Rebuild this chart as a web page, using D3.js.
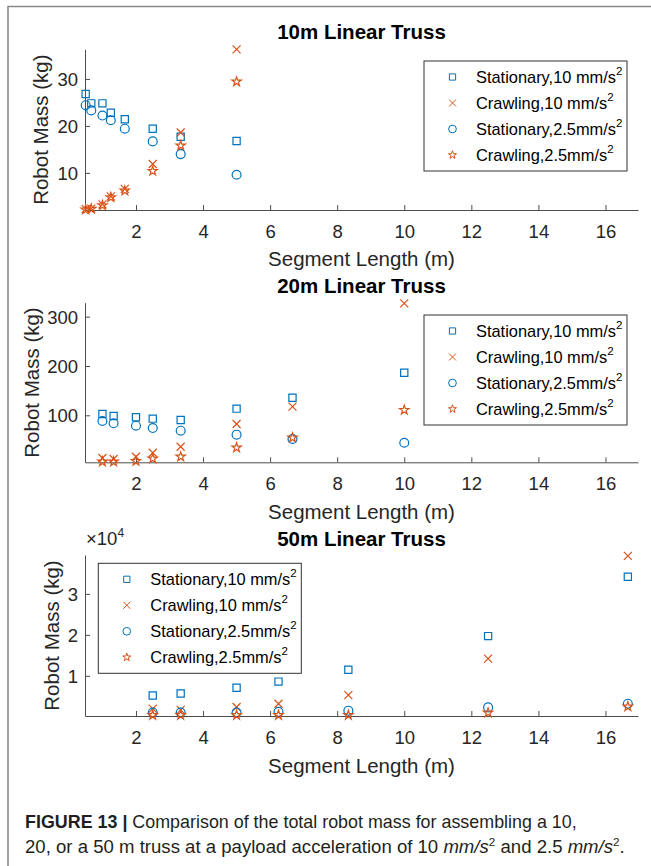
<!DOCTYPE html>
<html>
<head>
<meta charset="utf-8">
<script src="https://cdn.jsdelivr.net/npm/d3@7"></script>
<style>
    body { margin: 0; background: #fff; }
    #svg { display: block; font-family: "Liberation Sans", Arial, sans-serif; }
</style>
</head>
<body>
<svg id="svg" width="651" height="866"></svg>
<script>
// ---- data ----
let seg10 = [0.5, 0.667, 1, 1.25, 1.667, 2.5, 3.333, 5];
let stat10_10 = [26.8, 24.8, 24.8, 22.8, 21.4, 19.4, 17.7, 16.8];
let crawl10_10 = [2.3, 2.4, 3.3, 5.0, 6.6, 11.9, 18.6, 36.3];
let stat25_10 = [24.4, 23.3, 22.2, 21.2, 19.4, 16.7, 14.0, 9.6];
let crawl25_10 = [2.2, 2.35, 3.1, 4.8, 6.2, 10.4, 15.8, 29.4];

let seg20 = [1, 1.333, 2, 2.5, 3.333, 5, 6.667, 10];
let stat10_20 = [102.6, 98.6, 96, 93.2, 90.5, 113.5, 135.7, 186.4];
let crawl10_20 = [13.4, 11.4, 16, 24.1, 36.3, 82.3, 117.5, 327];
let stat25_20 = [88.4, 83.8, 78.9, 74.2, 68.8, 60.7, 51.9, 44.4];
let crawl25_20 = [6, 6, 7.3, 12, 16, 34.3, 54.6, 110.7];

let seg50 = [2.5, 3.333, 5, 6.25, 8.333, 12.5, 16.667];
let stat10_50 = [5200, 5700, 7100, 8600, 11500, 19700, 34200];
let crawl10_50 = [2000, 1700, 2400, 3200, 5300, 14200, 39300];
let stat25_50 = [1050, 1050, 1050, 1200, 1500, 2300, 3200];
let crawl25_50 = [400, 400, 400, 400, 400, 1000, 2500];

let seriesNames = ["Stationary,10 mm/s", "Crawling,10 mm/s", "Stationary,2.5mm/s", "Crawling,2.5mm/s"];
let titles = ["10m Linear Truss", "20m Linear Truss", "50m Linear Truss"];
let xTicks = [2, 4, 6, 8, 10, 12, 14, 16];
let yTicks10 = [10, 20, 30];
let yTicks20 = [100, 200, 300];
let yTicks50 = [10000, 20000, 30000];

// ---- styling ----
let blue = "#0072BD";
let orange = "#D95319";
let axisColor = "#4d4d4d";
let textColor = "#262626";

let symX = {
    draw(ctx, size) {
        let r = Math.sqrt(size) / 2;
        ctx.moveTo(-r, -r); ctx.lineTo(r, r);
        ctx.moveTo(r, -r); ctx.lineTo(-r, r);
    }
};
let markers = [
    { type: d3.symbolSquare, size: 52, color: blue },
    { type: symX, size: 64, color: orange },
    { type: d3.symbolCircle, size: 62, color: blue },
    { type: d3.symbolStar, size: 27, color: orange }
];

let svg = d3.select("#svg");
let xDomain = [0.48, 16.97];
let xRange = [85, 638];

let panels = [
    { title: titles[0], seg: seg10, series: [stat10_10, crawl10_10, stat25_10, crawl25_10],
      yDomain: [2.1, 36.3], yRange: [210, 49.3], yTicks: yTicks10, fmt: d => d,
      titleY: 39.3, labelY: 266, legend: { x: 424, y: 61 }, ylabX: 48 },
    { title: titles[1], seg: seg20, series: [stat10_20, crawl10_20, stat25_20, crawl25_20],
      yDomain: [4.7, 328.4], yRange: [462.3, 302.7], yTicks: yTicks20, fmt: d => d,
      titleY: 293.3, labelY: 519, legend: { x: 424, y: 315 }, ylabX: 39 },
    { title: titles[2], seg: seg50, series: [stat10_50, crawl10_50, stat25_50, crawl25_50],
      yDomain: [200, 39500], yRange: [716, 555], yTicks: yTicks50, fmt: d => d / 10000,
      titleY: 546, labelY: 773, legend: { x: 98.3, y: 563.3 }, ylabX: 59, exponent: true }
];

function drawFrame() {
    svg.append("path")
        .attr("d", "M8,866V6.5H651")
        .attr("fill", "none")
        .attr("stroke", "#8a8a8a")
        .attr("stroke-width", 1.6);
}

function drawPanel(p) {
    let xScale = d3.scaleLinear().domain(xDomain).range(xRange);
    let yScale = d3.scaleLinear().domain(p.yDomain).range(p.yRange);
    let g = svg.append("g");

    let xAxis = g.append("g")
        .attr("transform", `translate(0,${p.yRange[0]})`)
        .call(d3.axisBottom(xScale).tickValues(xTicks).tickSizeInner(-5).tickSizeOuter(0).tickPadding(15));
    let yAxis = g.append("g")
        .attr("transform", `translate(${xRange[0]},0)`)
        .call(d3.axisLeft(yScale).tickValues(p.yTicks).tickFormat(p.fmt).tickSizeInner(-5).tickSizeOuter(0).tickPadding(7));

    [xAxis, yAxis].forEach(a => {
        a.attr("font-family", null).attr("font-size", 18.5);
        a.select(".domain").attr("stroke", axisColor);
        a.selectAll(".tick line").attr("stroke", axisColor);
        a.selectAll(".tick text").attr("fill", textColor);
    });
    yAxis.selectAll(".tick text").attr("dy", "0.36em");

    // points, in MATLAB plot order
    p.series.forEach((vals, si) => {
        let m = markers[si];
        g.append("g").selectAll("path")
            .data(vals.map((v, i) => [p.seg[i], v]))
            .join("path")
            .attr("transform", d => `translate(${xScale(d[0])},${yScale(d[1])})`)
            .attr("d", d3.symbol().type(m.type).size(m.size))
            .attr("fill", "none")
            .attr("stroke", m.color)
            .attr("stroke-width", 1.2);
    });

    let cx = (xRange[0] + xRange[1]) / 2;
    g.append("text")
        .attr("x", cx).attr("y", p.titleY)
        .attr("text-anchor", "middle")
        .attr("font-weight", "bold")
        .attr("font-size", 20.5)
        .attr("fill", "#000")
        .text(p.title);

    g.append("text")
        .attr("x", cx).attr("y", p.labelY)
        .attr("text-anchor", "middle")
        .attr("font-size", 20.5)
        .attr("fill", textColor)
        .text("Segment Length (m)");

    let cy = (p.yRange[0] + p.yRange[1]) / 2;
    g.append("text")
        .attr("transform", `translate(${p.ylabX},${cy}) rotate(-90)`)
        .attr("text-anchor", "middle")
        .attr("font-size", 20.5)
        .attr("fill", textColor)
        .text("Robot Mass (kg)");

    if (p.exponent) {
        let t = g.append("text")
            .attr("x", 86).attr("y", 545)
            .attr("font-size", 18.5)
            .attr("fill", textColor);
        t.append("tspan").text("\u00d710");
        t.append("tspan").attr("font-size", 12).attr("dy", -8).text("4");
    }

    drawLegend(g, p.legend.x, p.legend.y);
}

function drawLegend(g, lx, ly) {
    let lg = g.append("g").attr("transform", `translate(${lx},${ly})`);
    lg.append("rect")
        .attr("x", 0).attr("y", 0)
        .attr("width", 203).attr("height", 110)
        .attr("fill", "#fff")
        .attr("stroke", "#333")
        .attr("stroke-width", 1);
    seriesNames.forEach((name, i) => {
        let m = markers[i];
        let yy = 16 + i * 26;
        lg.append("path")
            .attr("transform", `translate(28.5,${yy})`)
            .attr("d", d3.symbol().type(m.type).size(m.size * 0.75))
            .attr("fill", "none")
            .attr("stroke", m.color)
            .attr("stroke-width", 1);
        let t = lg.append("text")
            .attr("x", 52).attr("y", yy + 6)
            .attr("font-size", 16.4)
            .attr("fill", "#000");
        t.append("tspan").text(name);
        t.append("tspan").attr("font-size", 11.5).attr("dy", -8).text("2");
    });
}

function drawCaption() {
    let l1 = svg.append("text")
        .attr("x", 25).attr("y", 828)
        .attr("font-size", 17.5)
        .attr("fill", "#231f20");
    l1.append("tspan").attr("font-weight", "bold").text("FIGURE 13 | ");
    l1.append("tspan").text("Comparison of the total robot mass for assembling a 10,");

    let l2 = svg.append("text")
        .attr("x", 25).attr("y", 853)
        .attr("font-size", 17.5)
        .attr("fill", "#231f20");
    l2.append("tspan").text("20, or a 50 m truss at a payload acceleration of 10 ");
    l2.append("tspan").attr("font-style", "italic").text("mm/s");
    l2.append("tspan").attr("font-size", 11).attr("dy", -7).text("2");
    l2.append("tspan").attr("dy", 7).text(" and 2.5 ");
    l2.append("tspan").attr("font-style", "italic").text("mm/s");
    l2.append("tspan").attr("font-size", 11).attr("dy", -7).text("2");
    l2.append("tspan").attr("dy", 7).text(".");

    // the caption font is condensed; squeeze each line to its measured width
    [[l1, 552], [l2, 600]].forEach(([t, w]) => {
        let len = t.node().getComputedTextLength();
        let s = w / len;
        t.attr("transform", `translate(25,0) scale(${s},1) translate(-25,0)`);
    });
}

function initialise() {
    drawFrame();
    panels.forEach(drawPanel);
    drawCaption();
}

initialise();
</script>
</body>
</html>
